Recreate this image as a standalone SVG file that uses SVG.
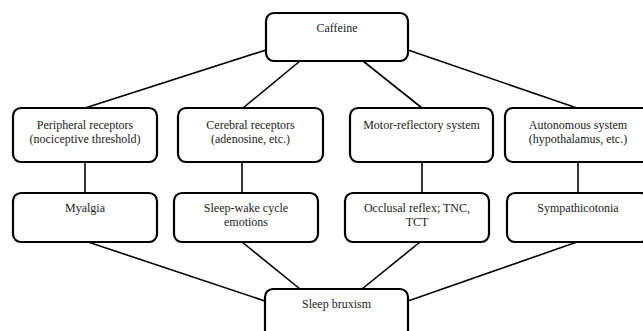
<svg xmlns="http://www.w3.org/2000/svg" width="643" height="331" viewBox="0 0 643 331">
<style>
.box{fill:#fff;stroke:#000;stroke-width:2.2}
.t{font-family:"Liberation Serif","Times New Roman",serif;font-size:12px;fill:#222;text-anchor:middle}
.c{stroke:#000;stroke-width:1.6;fill:none}
</style>
<rect width="643" height="331" fill="#fff"/>
<g id="connectors">
<line class="c" x1="266" y1="50" x2="85" y2="108"/>
<line class="c" x1="300" y1="61" x2="243" y2="108"/>
<line class="c" x1="363" y1="61" x2="422" y2="108"/>
<line class="c" x1="408" y1="50" x2="577" y2="108"/>
<line class="c" x1="85" y1="162" x2="85" y2="193"/>
<line class="c" x1="242" y1="162" x2="242" y2="193"/>
<line class="c" x1="422" y1="162" x2="422" y2="193"/>
<line class="c" x1="578" y1="162" x2="578" y2="193"/>
<line class="c" x1="88" y1="242" x2="265" y2="301"/>
<line class="c" x1="242" y1="242" x2="300" y2="289"/>
<line class="c" x1="420" y1="242" x2="362" y2="289"/>
<line class="c" x1="577" y1="242" x2="408" y2="301"/>
</g>
<g id="caffeine">
<rect class="box" x="266" y="13" width="142" height="48" rx="8"/>
<text class="t" x="337" y="32">Caffeine</text>
</g>
<g id="peripheral">
<rect class="box" x="13" y="108" width="144" height="54" rx="8"/>
<text class="t" x="85" y="129">Peripheral receptors</text>
<text class="t" x="85" y="142.5">(nociceptive threshold)</text>
</g>
<g id="cerebral">
<rect class="box" x="178" y="108" width="145" height="54" rx="8"/>
<text class="t" x="250.5" y="129">Cerebral receptors</text>
<text class="t" x="250.5" y="142.5">(adenosine, etc.)</text>
</g>
<g id="motor">
<rect class="box" x="350" y="108" width="143" height="54" rx="8"/>
<text class="t" x="421.5" y="129">Motor-reflectory system</text>
</g>
<g id="autonomous">
<rect class="box" x="505" y="108" width="146" height="54" rx="8"/>
<text class="t" x="578" y="129">Autonomous system</text>
<text class="t" x="578" y="142.5">(hypothalamus, etc.)</text>
</g>
<g id="myalgia">
<rect class="box" x="13" y="193" width="144" height="49" rx="8"/>
<text class="t" x="85" y="212">Myalgia</text>
</g>
<g id="sleepwake">
<rect class="box" x="174" y="193" width="144" height="49" rx="8"/>
<text class="t" x="246" y="212">Sleep-wake cycle</text>
<text class="t" x="246" y="225.5">emotions</text>
</g>
<g id="occlusal">
<rect class="box" x="345" y="193" width="144" height="49" rx="8"/>
<text class="t" x="417" y="212">Occlusal reflex; TNC,</text>
<text class="t" x="417" y="225.5">TCT</text>
</g>
<g id="sympathicotonia">
<rect class="box" x="507" y="193" width="142" height="49" rx="8"/>
<text class="t" x="578" y="212">Sympathicotonia</text>
</g>
<g id="bruxism">
<rect class="box" x="265" y="289" width="143" height="50" rx="8"/>
<text class="t" x="336.5" y="308">Sleep bruxism</text>
</g>
</svg>
